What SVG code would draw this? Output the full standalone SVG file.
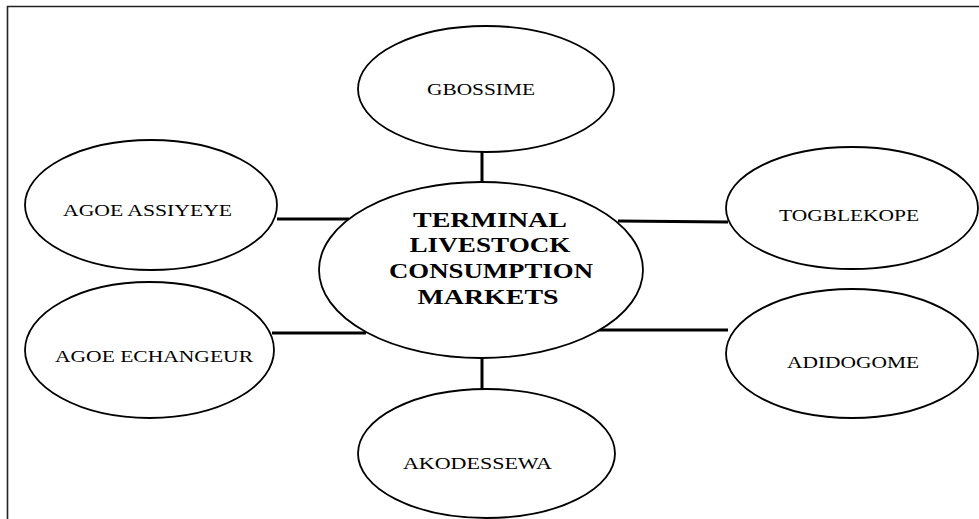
<svg xmlns="http://www.w3.org/2000/svg" width="979" height="519" viewBox="0 0 979 519">
  <style>
    .node { fill: #ffffff; stroke: #000000; stroke-width: 1.8; }
    .label { font-family: "Liberation Serif", "Times New Roman", serif; font-size: 16px; fill: #000000; }
    .hub { font-family: "Liberation Serif", "Times New Roman", serif; font-size: 22px; font-weight: bold; fill: #000000; }
    .link { stroke: #000000; stroke-width: 3; fill: none; }
    .frame { stroke: #222222; stroke-width: 1.6; fill: none; }
  </style>
  <rect width="979" height="519" fill="#ffffff"/>

  <!-- page frame (top and left edges) -->
  <path class="frame" d="M7.5,519 V6.5 H979"/>

  <!-- connectors from the hub to each market -->
  <g id="connectors">
    <line class="link" x1="482" y1="151" x2="482" y2="183"/>
    <line class="link" x1="482" y1="357" x2="482" y2="390"/>
    <line class="link" x1="277" y1="219" x2="349" y2="219"/>
    <line class="link" x1="272" y1="333" x2="366" y2="333"/>
    <line class="link" x1="618" y1="221" x2="728" y2="222"/>
    <line class="link" x1="598" y1="330" x2="728" y2="330"/>
  </g>

  <g id="hub">
    <ellipse class="node" cx="481" cy="270" rx="162" ry="88"/>
    <text class="hub" x="490" y="227" text-anchor="middle" textLength="154" lengthAdjust="spacingAndGlyphs">TERMINAL</text>
    <text class="hub" x="490" y="252" text-anchor="middle" textLength="161" lengthAdjust="spacingAndGlyphs">LIVESTOCK</text>
    <text class="hub" x="491" y="278" text-anchor="middle" textLength="204" lengthAdjust="spacingAndGlyphs">CONSUMPTION</text>
    <text class="hub" x="488" y="304" text-anchor="middle" textLength="141" lengthAdjust="spacingAndGlyphs">MARKETS</text>
  </g>

  <g id="gbossime">
    <ellipse class="node" cx="486" cy="89" rx="128" ry="63"/>
    <text class="label" x="481" y="95" text-anchor="middle" textLength="108" lengthAdjust="spacingAndGlyphs">GBOSSIME</text>
  </g>

  <g id="agoe-assiyeye">
    <ellipse class="node" cx="151" cy="205" rx="126" ry="65"/>
    <text class="label" x="147.5" y="216" text-anchor="middle" textLength="169" lengthAdjust="spacingAndGlyphs">AGOE ASSIYEYE</text>
  </g>

  <g id="agoe-echangeur">
    <ellipse class="node" cx="149.5" cy="350" rx="124.5" ry="68"/>
    <text class="label" x="154" y="362" text-anchor="middle" textLength="198" lengthAdjust="spacingAndGlyphs">AGOE ECHANGEUR</text>
  </g>

  <g id="togblekope">
    <ellipse class="node" cx="852" cy="208" rx="126" ry="61"/>
    <text class="label" x="849" y="221" text-anchor="middle" textLength="140" lengthAdjust="spacingAndGlyphs">TOGBLEKOPE</text>
  </g>

  <g id="adidogome">
    <ellipse class="node" cx="852" cy="353.5" rx="126" ry="64.5"/>
    <text class="label" x="853" y="368" text-anchor="middle" textLength="132" lengthAdjust="spacingAndGlyphs">ADIDOGOME</text>
  </g>

  <g id="akodessewa">
    <ellipse class="node" cx="486.5" cy="453.5" rx="128.5" ry="64.5"/>
    <text class="label" x="477.5" y="469" text-anchor="middle" textLength="149" lengthAdjust="spacingAndGlyphs">AKODESSEWA</text>
  </g>
</svg>
